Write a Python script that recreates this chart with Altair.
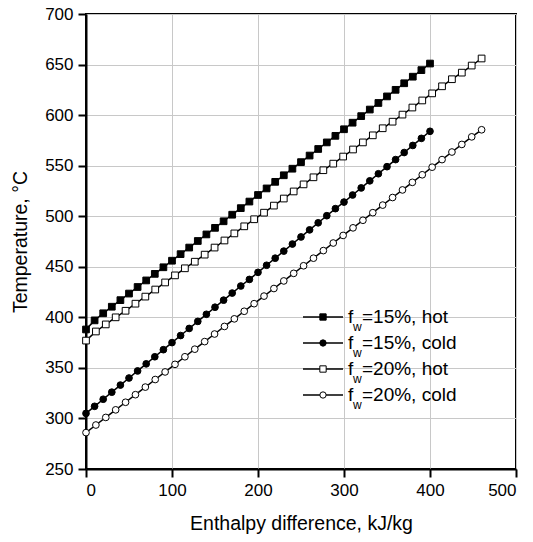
import altair as alt
import pandas as pd

FONT = "Liberation Sans"

# ---- data ----
x15 = [0, 10, 20, 30, 40, 50, 60, 70, 80, 90, 100, 110, 120, 130, 140, 150, 160, 170, 180, 190,
       200, 210, 220, 230, 240, 250, 260, 270, 280, 290, 300, 310, 320, 330, 340, 350, 360, 370,
       380, 390, 400]
x20 = [0, 11.5, 23, 34.5, 46, 57.5, 69, 80.5, 92, 103.5, 115, 126.5, 138, 149.5, 161, 172.5, 184,
       195.5, 207, 218.5, 230, 241.5, 253, 264.5, 276, 287.5, 299, 310.5, 322, 333.5, 345, 356.5,
       368, 379.5, 391, 402.5, 414, 425.5, 437, 448.5, 460]

hot15 = [388, 397, 404, 410.5, 417, 423.5, 430, 436.5, 443, 449.5, 456, 462.5, 469, 475.5, 482,
         488.5, 495, 501.5, 508, 514.5, 521, 527.5, 534, 540.5, 547, 553.5, 560, 566.5, 573, 579.5,
         586, 592.5, 599, 605.5, 612, 618.5, 625, 631.5, 638, 644.5, 651]
cold15 = [305, 312, 319, 326, 333, 340, 347, 354, 361, 368, 375, 382, 389, 396, 403, 410, 417, 424,
          431, 437.5, 444.5, 451.5, 458.5, 465.5, 472.5, 479.5, 486.5, 493.5, 500.5, 507.5, 514,
          521, 528, 535, 542, 549, 556, 563, 570, 577, 584]
hot20 = [377, 386, 393, 400, 406.5, 413.5, 420.5, 427.5, 434.5, 441.5, 448.5, 455, 462, 469, 476,
         483, 490, 497, 503.5, 510.5, 517.5, 524.5, 531.5, 538.5, 545.5, 552, 559, 566, 573, 580,
         587, 593.5, 600.5, 607.5, 614.5, 621.5, 628.5, 635.5, 642, 649, 656]
cold20 = [286, 293.5, 301, 308.5, 316, 323.5, 331, 338.5, 346, 353.5, 361, 368.5, 376, 383.5, 391,
          398.5, 406, 413.5, 421, 428.5, 436, 443.5, 451, 458.5, 466, 473.5, 481, 488.5, 496, 503.5,
          511, 518.5, 526, 533.5, 541, 548.5, 556, 563.5, 571, 578.5, 585.5]

series_names = ["15% hot", "15% cold", "20% hot", "20% cold"]
legend_labels = ["=15%, hot", "=15%, cold", "=20%, hot", "=20%, cold"]
x_ticks = [0, 100, 200, 300, 400, 500]
y_ticks = [250, 275, 300, 325, 350, 375, 400, 425, 450, 475, 500, 525, 550, 575, 600, 625, 650,
           675, 700]

rows = []
for name, xs, ys in [("15% hot", x15, hot15), ("15% cold", x15, cold15),
                     ("20% hot", x20, hot20), ("20% cold", x20, cold20)]:
    for xv, yv in zip(xs, ys):
        rows.append({"x": xv, "y": yv, "series": name})
df = pd.DataFrame(rows)

shapes = ["square", "circle", "square", "circle"]
fills = ["black", "black", "white", "white"]

xenc = alt.X("x:Q", scale=alt.Scale(domain=[0, 500], nice=False),
             axis=alt.Axis(values=x_ticks, title="Enthalpy difference, kJ/kg", tickSize=8,
                           labelPadding=5, titlePadding=16))
yenc = alt.Y("y:Q", scale=alt.Scale(domain=[250, 700], nice=False),
             axis=alt.Axis(values=y_ticks, title="Temperature, °C",
                           tickSize={"condition": {"test": "datum.value % 50 === 0", "value": 8}, "value": 4},
                           gridOpacity={"condition": {"test": "datum.value % 50 === 0", "value": 1}, "value": 0},
                           labelExpr="datum.value % 50 === 0 ? datum.label : ''",
                           labelPadding=5, titlePadding=14))

lines = alt.Chart(df).mark_line(color="black", strokeWidth=1.5).encode(
    x=xenc, y=yenc, detail="series:N")

points = alt.Chart(df).mark_point(filled=False, stroke="black", strokeWidth=1, size=45,
                                  opacity=1).encode(
    x="x:Q", y="y:Q",
    shape=alt.Shape("series:N", scale=alt.Scale(domain=series_names, range=shapes), legend=None),
    fill=alt.Fill("series:N", scale=alt.Scale(domain=series_names, range=fills), legend=None),
)

layers = [lines, points]

row_y = [303, 329, 355, 381]
for i in range(4):
    one = pd.DataFrame({"label": [legend_labels[i]]})
    yc = row_y[i]
    base = alt.Chart(one)
    layers.append(base.mark_rule(color="black", strokeWidth=1.5).encode(
        x=alt.value(217), x2=alt.value(257), y=alt.value(yc)))
    layers.append(base.mark_point(shape=shapes[i], fill=fills[i], stroke="black", strokeWidth=1,
                                  size=40, opacity=1, filled=False).encode(
        x=alt.value(237), y=alt.value(yc)))
    layers.append(base.mark_text(text="f", align="left", baseline="middle", fontSize=19,
                                 font=FONT, color="black").encode(
        x=alt.value(262), y=alt.value(yc)))
    layers.append(base.mark_text(text="w", align="left", baseline="middle", fontSize=12,
                                 font=FONT, color="black").encode(
        x=alt.value(267), y=alt.value(yc + 10)))
    layers.append(base.mark_text(align="left", baseline="middle", fontSize=19,
                                 font=FONT, color="black").encode(
        text="label:N", x=alt.value(276), y=alt.value(yc)))

chart = alt.layer(*layers).properties(
    width=430, height=455,
    autosize=alt.AutoSizeParams(type="none"),
    padding={"left": 86, "top": 14, "right": 17, "bottom": 73},
).configure_view(
    stroke="black", strokeWidth=2
).configure_axis(
    domainColor="black", domainWidth=2, tickColor="black", tickWidth=2,
    gridColor="#c8c8c8", gridWidth=1,
    labelFont=FONT, labelFontSize=17, labelColor="black",
    titleFont=FONT, titleFontSize=19.5, titleFontWeight="normal", titleColor="black",
)

chart.save("out.html", embed_options={"renderer": "svg", "actions": False})
